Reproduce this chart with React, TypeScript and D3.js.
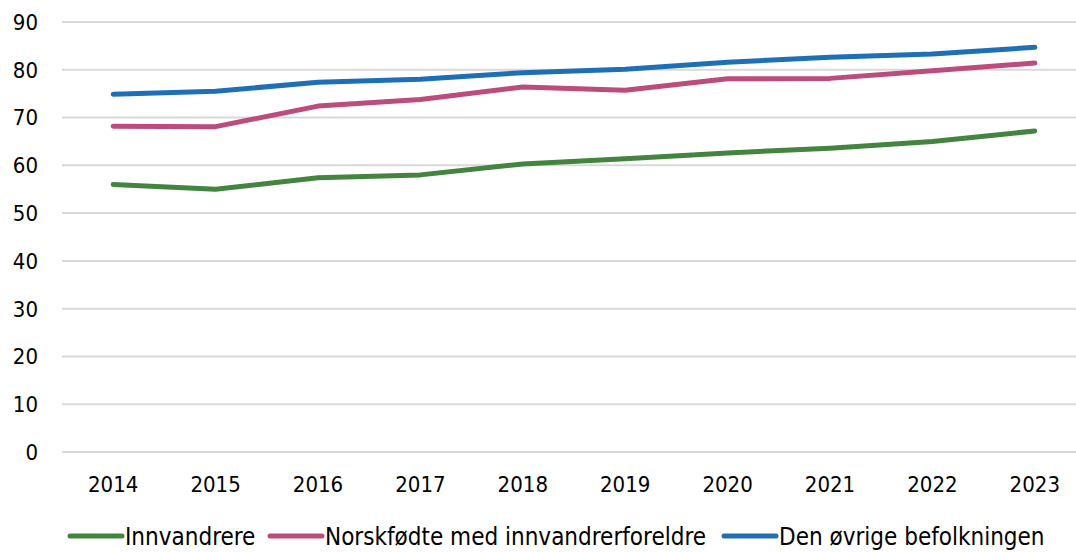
import React from 'react';
import * as d3 from 'd3';

const width = 1076;
const height = 552;
const margin = { top: 22, right: -10, bottom: 100, left: 62 };

const years = ['2014', '2015', '2016', '2017', '2018', '2019', '2020', '2021', '2022', '2023'];
const innvandrere = [56.0, 55.0, 57.4, 58.0, 60.3, 61.4, 62.6, 63.6, 65.0, 67.2];
const norskfodte = [68.2, 68.1, 72.4, 73.8, 76.4, 75.7, 78.1, 78.2, 79.8, 81.4];
const ovrige = [74.9, 75.5, 77.4, 78.0, 79.4, 80.1, 81.6, 82.6, 83.3, 84.7];
const yTicks = [0, 10, 20, 30, 40, 50, 60, 70, 80, 90];

const series = [
  { name: 'Innvandrere', values: innvandrere, color: '#43843f' },
  { name: 'Norskfødte med innvandrerforeldre', values: norskfodte, color: '#bb4c7c' },
  { name: 'Den øvrige befolkningen', values: ovrige, color: '#1f6fb6' }
];

const font = "Tahoma, 'DejaVu Sans Condensed', 'DejaVu Sans', sans-serif";

export default function App() {
  const x = d3
    .scaleBand()
    .domain(years)
    .range([margin.left, width - margin.right]);
  const y = d3
    .scaleLinear()
    .domain([0, 90])
    .range([height - margin.bottom, margin.top]);

  const line = d3
    .line<number>()
    .x((d, i) => (x(years[i]) as number) + x.bandwidth() / 2)
    .y(d => y(d));

  // legend positions (line start)
  const legendX = [70, 270, 724];

  return (
    <svg
      width={width}
      height={height}
      style={{ position: 'absolute', left: 0, top: 0, background: '#fff' }}
      fontFamily={font}
    >
      {yTicks.map(t => (
        <g key={t}>
          <line x1={margin.left} x2={width} y1={y(t)} y2={y(t)} stroke="#d9d9d9" strokeWidth={2} />
          <text x={38} y={y(t)} dy="0.36em" textAnchor="end" fontSize={22} fill="#000">
            {t}
          </text>
        </g>
      ))}
      {years.map(yr => (
        <text
          key={yr}
          x={(x(yr) as number) + x.bandwidth() / 2}
          y={492}
          textAnchor="middle"
          fontSize={22}
          fill="#000"
        >
          {yr}
        </text>
      ))}
      {series.map(s => (
        <path
          key={s.name}
          d={line(s.values) as string}
          fill="none"
          stroke={s.color}
          strokeWidth={5}
          strokeLinecap="round"
          strokeLinejoin="round"
        />
      ))}
      {series.map((s, i) => (
        <g key={s.name} transform={`translate(${legendX[i]}, 536)`}>
          <line x1={0} x2={52} y1={0} y2={0} stroke={s.color} strokeWidth={5} strokeLinecap="round" />
          <text x={55} y={0} dy="0.36em" fontSize={24} fill="#000">
            {s.name}
          </text>
        </g>
      ))}
    </svg>
  );
}
